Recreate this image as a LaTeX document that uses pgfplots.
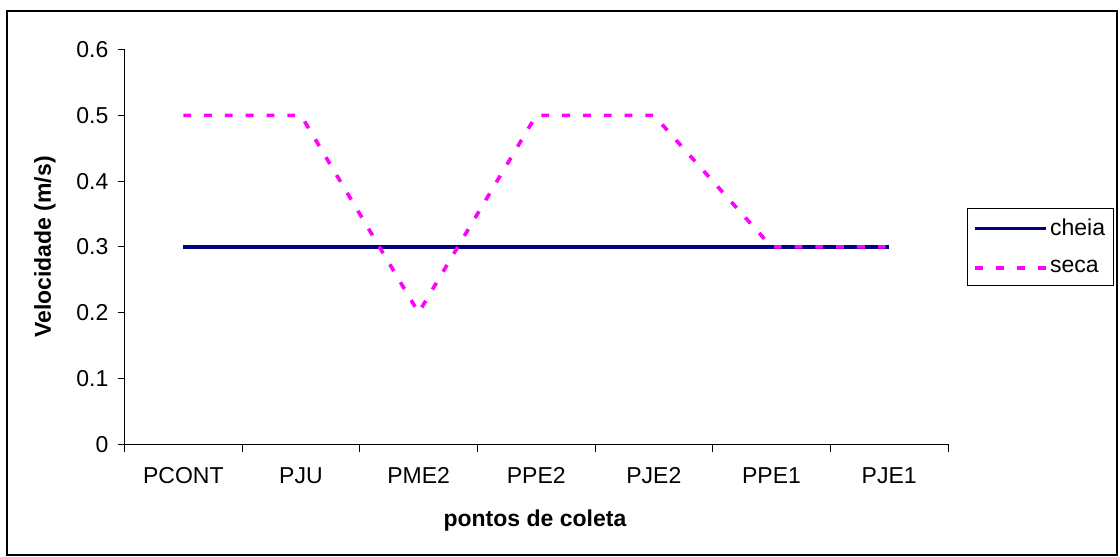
\documentclass[border=0pt]{standalone}
\usepackage{pgfplots}
\pgfplotsset{compat=1.18}
\usepackage{fontspec}
\setmainfont{Liberation Sans}
\definecolor{cheiacol}{RGB}{0,0,128}
\definecolor{secacol}{RGB}{255,0,255}
\begin{document}
\begin{tikzpicture}
\useasboundingbox (0pt,0pt) rectangle (560pt,278.5pt);
% outer chart frame
\draw[line width=1pt,black] (3.5pt,1pt) rectangle (558.5pt,273pt);
\begin{axis}[
  at={(62.25pt,56.35pt)}, anchor=south west,
  scale only axis, width=411.75pt, height=197.4pt,
  xmin=-0.5, xmax=6.5, ymin=0, ymax=0.6,
  axis x line*=bottom, axis y line*=left,
  axis line style={black, line width=0.5pt, -},
  tick style={black, line width=0.5pt},
  tick align=outside,
  xtick={0,...,6},
  xticklabels={PCONT,PJU,PME2,PPE2,PJE2,PPE1,PJE1},
  major x tick style={draw=none},
  minor xtick={-0.5,0.5,...,6.5},
  minor tick length=4pt,
  major tick length=3.5pt,
  ytick={0,0.1,...,0.6},
  yticklabels={0,0.1,0.2,0.3,0.4,0.5,0.6},
  font=\fontsize{11.5}{13.5}\selectfont,
  ticklabel style={font=\fontsize{11.5}{13.5}\selectfont},
  xticklabel style={anchor=north, yshift=-4.5pt},
  yticklabel style={anchor=east, xshift=-1pt},
  every axis y label/.style={at={(rel axis cs:-0.0965,0.5)}, rotate=90, anchor=center},
  every axis x label/.style={at={(rel axis cs:0.4985,-0.194)}, anchor=center},
  ylabel={\textbf{Velocidade (m/s)}},
  xlabel={\textbf{pontos de coleta}},
  legend style={at={(1.0231,0.5985)}, anchor=north west, draw=black, line width=0.5pt,
    font=\fontsize{11.5}{13.5}\selectfont, inner xsep=3pt, inner ysep=4pt,
    row sep=9pt,
    nodes={inner sep=1pt}},
  legend cell align=left,
  legend image code/.code={\draw[#1] (0pt,0pt) -- (35.5pt,0pt);},
  clip=false,
]
\addplot[cheiacol, line width=1.8pt] coordinates {
  (0,0.3) (1,0.3) (2,0.3) (3,0.3) (4,0.3) (5,0.3) (6,0.3)};
\addlegendentry{cheia}
\addplot[secacol, line width=1.8pt, dash pattern=on 3.9pt off 6.5pt] coordinates {
  (0,0.5) (1,0.5) (2,0.2) (3,0.5) (4,0.5) (5,0.3) (6,0.3)};
\addlegendentry{seca}
\end{axis}
\end{tikzpicture}
\end{document}
